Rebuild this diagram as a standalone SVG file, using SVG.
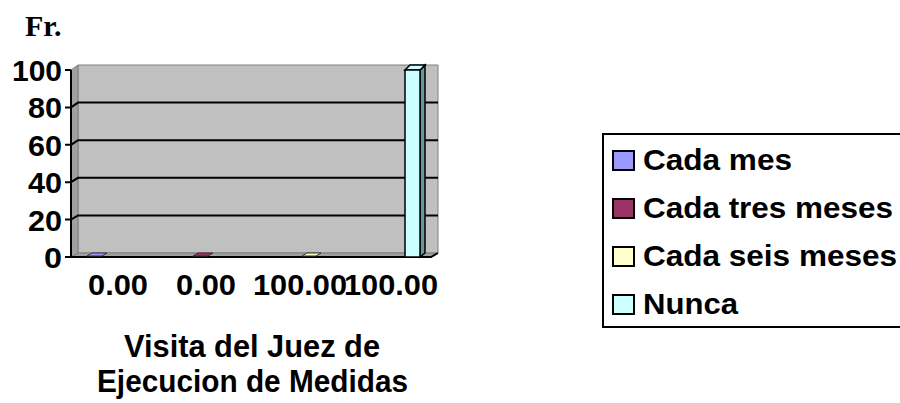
<svg xmlns="http://www.w3.org/2000/svg" width="900" height="403" viewBox="0 0 900 403">
<style>
.lbl{font-family:"Liberation Sans",Arial,sans-serif;font-weight:bold;font-size:29px;fill:#000}
.leg{font-family:"Liberation Sans",Arial,sans-serif;font-weight:bold;font-size:29.5px;fill:#000}
.ttl{font-family:"Liberation Sans",Arial,sans-serif;font-weight:bold;font-size:31px;fill:#000}
.fr{font-family:"Liberation Serif","Times New Roman",serif;font-weight:bold;font-size:30px;fill:#000}
.grid{stroke:#000;stroke-width:2;fill:none}
.ax{stroke:#000;stroke-width:2;fill:none}
.sw{stroke:#000;stroke-width:2}
</style>
<rect width="900" height="403" fill="#fff"/>
<g id="frame">
  <polygon points="78,65 438,65 438,253 78,253" fill="#c0c0c0" stroke="#808080" stroke-width="1"/>
  <polygon points="71,70 78,65 78,253 71,257" fill="#a0a0a0" stroke="#808080" stroke-width="1"/>
  <polygon points="71,257 78,253 438,253 431,257" fill="#a0a0a0" stroke="#808080" stroke-width="1"/>
  <path class="grid" d="M71,107.4 L78,102.6 H438 M71,144.8 L78,140.2 H438 M71,182.2 L78,177.8 H438 M71,219.6 L78,215.4 H438"/>
  <path class="ax" d="M71,70 V257 H431 L438,253 M65,70 H71 M65,107.4 H71 M65,144.8 H71 M65,182.2 H71 M65,219.6 H71 M65,257 H71"/>
</g>
<g id="bars">
  <polygon points="87,256 92,253 107,253 102,256" fill="#9999ff" stroke="#333" stroke-width="1"/>
  <polygon points="193,256 198,253 213,253 208,256" fill="#993366" stroke="#333" stroke-width="1"/>
  <polygon points="302,256 307,253 321,253 316,256" fill="#ffffcc" stroke="#333" stroke-width="1"/>
  <g id="bar-nunca">
    <polygon points="420,70 425,65 425,253 420,257" fill="#669999" stroke="#000" stroke-width="1.5"/>
    <polygon points="405,70 410,65 425,65 420,70" fill="#ccffff" stroke="#000" stroke-width="1.5"/>
    <rect x="405" y="70" width="15" height="187" fill="#ccffff" stroke="#000" stroke-width="1.5"/>
  </g>
</g>
<g id="yaxis-labels" class="lbl">
  <text x="12" y="80.5" textLength="50" lengthAdjust="spacingAndGlyphs">100</text>
  <text x="28" y="118" textLength="34" lengthAdjust="spacingAndGlyphs">80</text>
  <text x="28" y="155.5" textLength="34" lengthAdjust="spacingAndGlyphs">60</text>
  <text x="28" y="193" textLength="34" lengthAdjust="spacingAndGlyphs">40</text>
  <text x="28" y="230.5" textLength="34" lengthAdjust="spacingAndGlyphs">20</text>
  <text x="44" y="268" textLength="18" lengthAdjust="spacingAndGlyphs">0</text>
</g>
<g id="xaxis-labels" class="lbl">
  <text x="88" y="295" textLength="60" lengthAdjust="spacingAndGlyphs">0.00</text>
  <text x="176" y="295" textLength="60" lengthAdjust="spacingAndGlyphs">0.00</text>
  <text x="253" y="295" textLength="94" lengthAdjust="spacingAndGlyphs">100.00</text>
  <text x="344" y="295" textLength="94" lengthAdjust="spacingAndGlyphs">100.00</text>
</g>
<text class="fr" x="25" y="36">Fr.</text>
<g id="title" class="ttl">
  <text x="124" y="357" textLength="256" lengthAdjust="spacingAndGlyphs">Visita del Juez de</text>
  <text x="97" y="392" textLength="311" lengthAdjust="spacingAndGlyphs">Ejecucion de Medidas</text>
</g>
<g id="legend">
  <rect x="603" y="134" width="310" height="193" fill="#fff" stroke="#000" stroke-width="2"/>
  <rect class="sw" x="613" y="151" width="21" height="19" fill="#9999ff"/>
  <rect class="sw" x="613" y="199" width="21" height="19" fill="#993366"/>
  <rect class="sw" x="613" y="247" width="21" height="19" fill="#ffffcc"/>
  <rect class="sw" x="613" y="295" width="21" height="19" fill="#ccffff"/>
  <text class="leg" x="643" y="170" textLength="149" lengthAdjust="spacingAndGlyphs">Cada mes</text>
  <text class="leg" x="643" y="218" textLength="250" lengthAdjust="spacingAndGlyphs">Cada tres meses</text>
  <text class="leg" x="643" y="266" textLength="254" lengthAdjust="spacingAndGlyphs">Cada seis meses</text>
  <text class="leg" x="643" y="314" textLength="95" lengthAdjust="spacingAndGlyphs">Nunca</text>
</g>
</svg>
